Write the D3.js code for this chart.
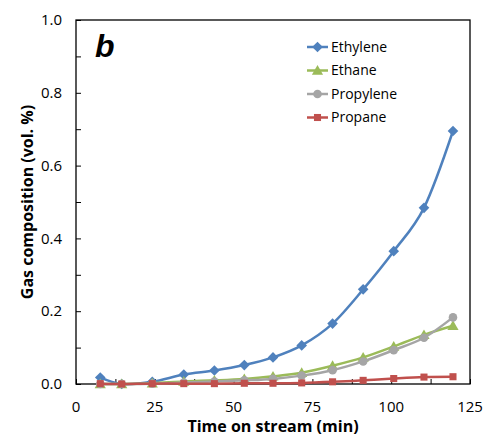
<!DOCTYPE html>
<html>
<head>
<meta charset="utf-8">
<script src="https://cdn.jsdelivr.net/npm/d3@7"></script>
<style>
  html, body { margin: 0; padding: 0; background: #fff; }
  svg { display: block; font-family: "Open Sans", "Noto Sans", sans-serif; }
</style>
</head>
<body>
<svg id="chart" width="486" height="438"></svg>
<script>
// Sampling times (min)
const times = [7.7, 14.5, 24.2, 34.2, 43.9, 53.4, 62.5, 71.6, 81.4, 91.1, 100.8, 110.4, 119.6];

// Gas composition (vol. %) per species
const ethylene  = [0.018, 0.000, 0.006, 0.026, 0.037, 0.052, 0.073, 0.106, 0.166, 0.260, 0.365, 0.484, 0.695];
const ethane    = [0.000, 0.000, 0.002, 0.007, 0.010, 0.014, 0.021, 0.031, 0.050, 0.073, 0.103, 0.135, 0.160];
const propylene = [0.000, 0.000, 0.001, 0.004, 0.007, 0.010, 0.014, 0.023, 0.038, 0.062, 0.093, 0.127, 0.183];
const propane   = [0.001, 0.000, 0.001, 0.001, 0.001, 0.002, 0.002, 0.003, 0.006, 0.010, 0.015, 0.019, 0.020];

const seriesNames = ["Ethylene", "Ethane", "Propylene", "Propane"];
const xTicks = [0, 25, 50, 75, 100, 125];
const xMinorTicks = [0, 12.5, 25, 37.5, 50, 62.5, 75, 87.5, 100, 112.5, 125];
const yTicks = [0, 0.2, 0.4, 0.6, 0.8, 1.0];
const yMinorTicks = [0, 0.1, 0.2, 0.3, 0.4, 0.5, 0.6, 0.7, 0.8, 0.9, 1.0];

const series = [
  { name: seriesNames[0], values: ethylene,  color: "#4F81BD", marker: "diamond" },
  { name: seriesNames[1], values: ethane,    color: "#9BBB59", marker: "triangle" },
  { name: seriesNames[2], values: propylene, color: "#A5A5A5", marker: "circle" },
  { name: seriesNames[3], values: propane,   color: "#C0504D", marker: "square" }
];

const svg = d3.select("#chart");
const margin = { left: 76, right: 16, top: 20, bottom: 54 };
const W = 486, H = 438;
const pw = W - margin.left - margin.right;
const ph = H - margin.top - margin.bottom;

const x = d3.scaleLinear().domain([0, 125]).range([margin.left, margin.left + pw]);
const y = d3.scaleLinear().domain([0, 1]).range([margin.top + ph, margin.top]);

// Inward-facing tick marks
const xAxis = d3.axisBottom(x).tickValues(xMinorTicks).tickSize(-5).tickFormat("");
const yAxis = d3.axisLeft(y).tickValues(yMinorTicks).tickSize(-5).tickFormat("");

svg.append("g").attr("transform", `translate(0,${margin.top + ph})`).call(xAxis)
  .call(g => g.select(".domain").remove())
  .call(g => g.selectAll("line").attr("stroke", "#000"));
svg.append("g").attr("transform", `translate(${margin.left},0)`).call(yAxis)
  .call(g => g.select(".domain").remove())
  .call(g => g.selectAll("line").attr("stroke", "#000"));

// Tick labels
svg.append("g").selectAll("text").data(xTicks).join("text")
  .attr("x", d => x(d)).attr("y", margin.top + ph + 28)
  .attr("text-anchor", "middle").attr("font-size", 15).attr("fill", "#000")
  .text(d => d);
svg.append("g").selectAll("text").data(yTicks).join("text")
  .attr("x", margin.left - 14).attr("y", d => y(d)).attr("dy", "0.35em")
  .attr("text-anchor", "end").attr("font-size", 15).attr("fill", "#000")
  .text(d => d.toFixed(1));

// Plot frame
svg.append("rect")
  .attr("x", margin.left).attr("y", margin.top).attr("width", pw).attr("height", ph)
  .attr("fill", "none").attr("stroke", "#000").attr("stroke-width", 1.3);

// Axis titles
svg.append("text")
  .attr("x", margin.left + pw / 2).attr("y", 432)
  .attr("text-anchor", "middle").attr("font-size", 16).attr("font-weight", "bold")
  .text("Time on stream (min)");
svg.append("text")
  .attr("transform", `translate(33,${margin.top + ph / 2}) rotate(-90)`)
  .attr("text-anchor", "middle").attr("font-size", 16).attr("font-weight", "bold")
  .text("Gas composition (vol. %)");

// Panel letter
svg.append("text")
  .attr("x", 95).attr("y", 57)
  .attr("font-family", "Liberation Sans, Arial, sans-serif")
  .attr("font-size", 32).attr("font-weight", "bold").attr("font-style", "italic")
  .text("b");

const symbolFor = {
  diamond: d3.symbol().type(d3.symbolDiamond2).size(72),
  triangle: d3.symbol().type(d3.symbolTriangle).size(54),
  circle: d3.symbol().type(d3.symbolCircle).size(58),
  square: d3.symbol().type(d3.symbolSquare).size(50)
};

const line = d3.line()
  .x((d, i) => x(times[i]))
  .y(d => y(d))
  .curve(d3.curveCatmullRom.alpha(0));

series.forEach(s => {
  const g = svg.append("g");
  g.append("path").datum(s.values)
    .attr("d", line).attr("fill", "none")
    .attr("stroke", s.color).attr("stroke-width", 2.5);
  g.selectAll("path.m").data(s.values).join("path").attr("class", "m")
    .attr("transform", (d, i) => `translate(${x(times[i])},${y(d)})${s.marker === "triangle" ? " translate(0,1)" : ""}`)
    .attr("d", symbolFor[s.marker]()).attr("fill", s.color);
});

// Legend
const legend = svg.append("g");
series.forEach((s, i) => {
  const ly = 47 + i * 23.5;
  legend.append("line")
    .attr("x1", 307).attr("x2", 328).attr("y1", ly).attr("y2", ly)
    .attr("stroke", s.color).attr("stroke-width", 2.5);
  legend.append("path")
    .attr("transform", `translate(317.5,${ly + (s.marker === "triangle" ? 1 : 0)})`)
    .attr("d", symbolFor[s.marker]()).attr("fill", s.color);
  legend.append("text")
    .attr("x", 331).attr("y", ly).attr("dy", "0.35em")
    .attr("font-size", 14).attr("fill", "#000")
    .text(s.name);
});
</script>
</body>
</html>
